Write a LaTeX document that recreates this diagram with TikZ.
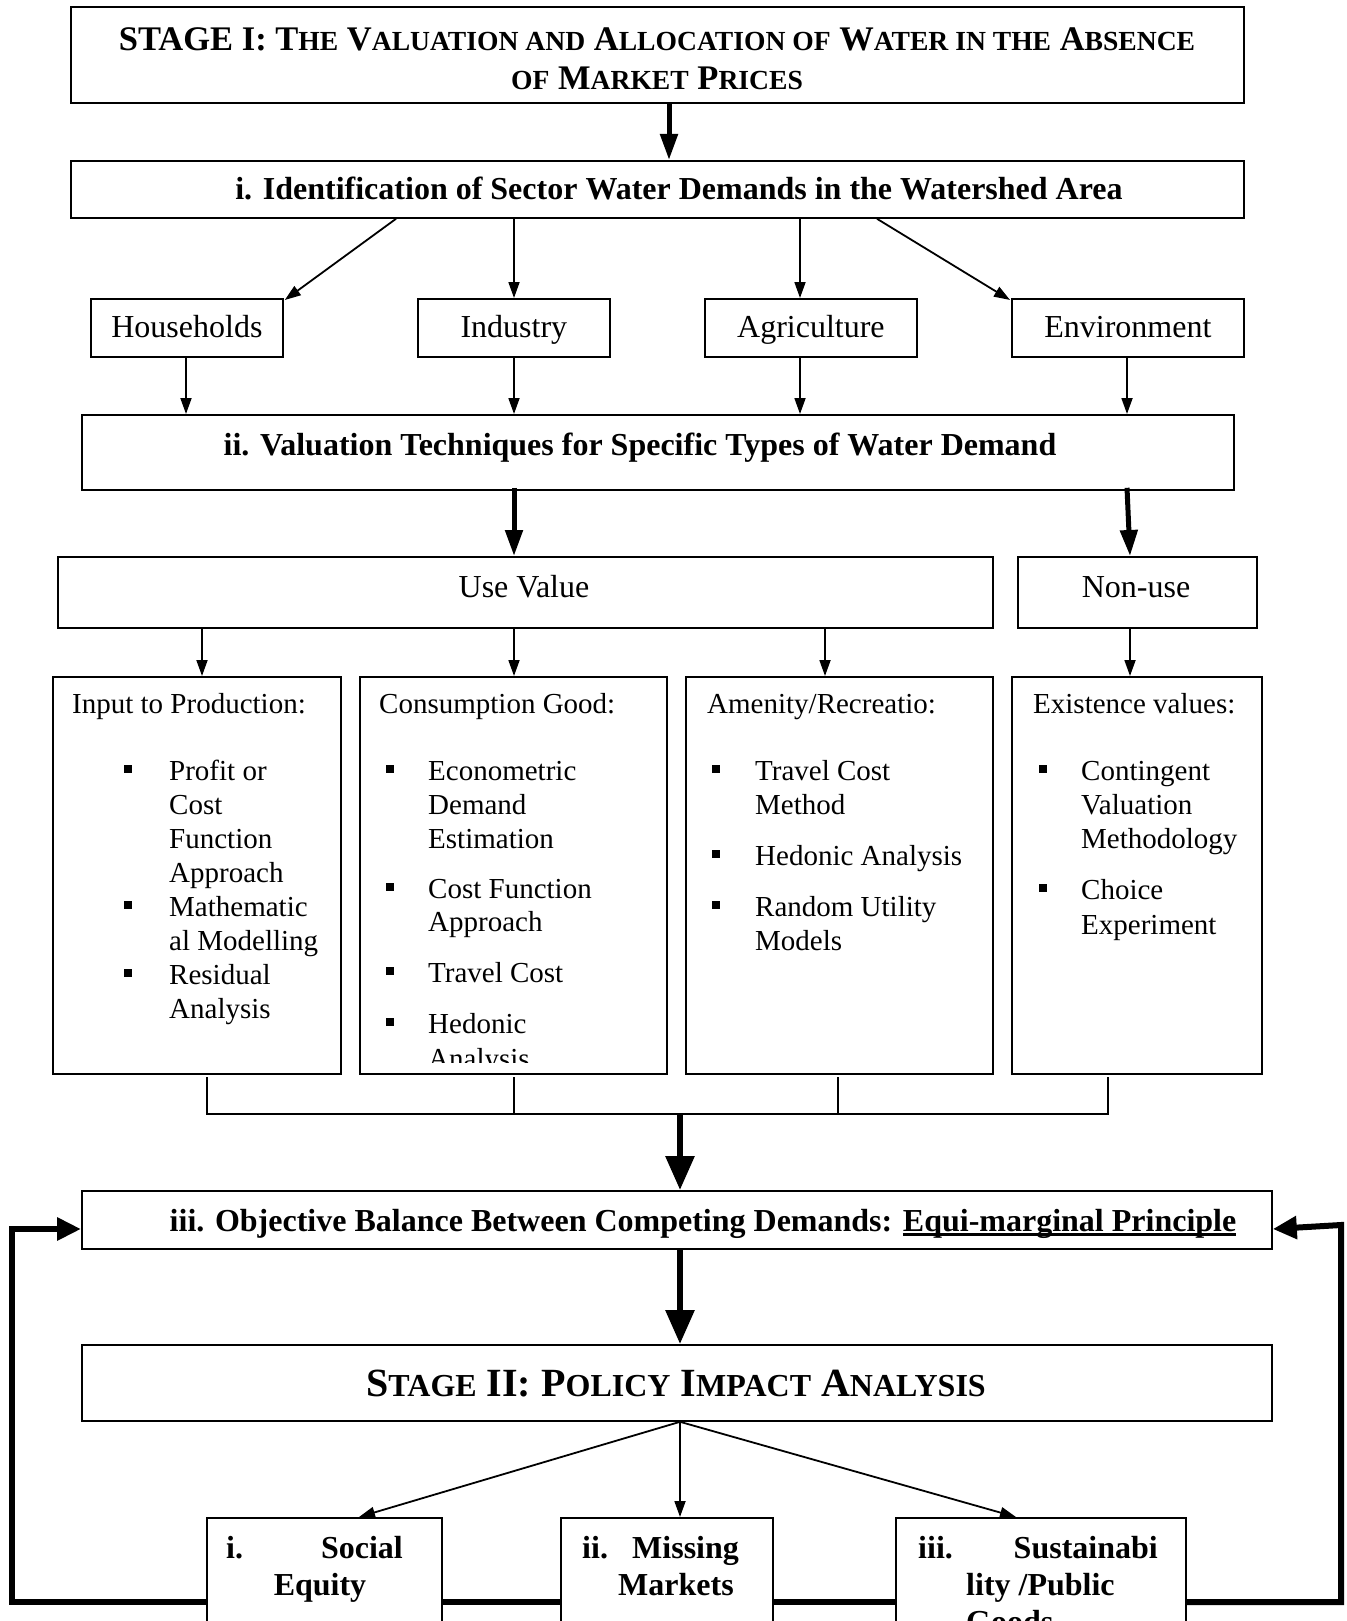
\documentclass[tikz,border=0pt]{standalone}
\usepackage{fontspec}
\setmainfont{Liberation Serif}
\usetikzlibrary{arrows.meta}
\newcommand\smc[1]{{\fontsize{27.6}{30}\selectfont #1}}
\newcommand\bsmc[1]{{\fontsize{32}{36}\selectfont #1}}
\newcommand\ulx[1]{\setbox0\hbox{#1}\rlap{\rule[-4.5pt]{\wd0}{2.2pt}}\box0}
\newcommand\li[4]{\node[rm,anchor=base west] (#1) at (#2,#3+9) {#4};}
\newcommand\bu[3]{\node[bul] (#1) at (#2,#3-2) {};}
\begin{document}
\begin{tikzpicture}[x=1pt,y=-1pt,
 box/.style={draw,line width=1.8pt,fill=white,anchor=north west,inner sep=0pt},
 sbox/.style={box,font=\fontsize{32}{36}\selectfont,text height=24pt,text depth=4pt},
 rm/.style={font=\fontsize{29}{34}\selectfont,inner sep=0pt},
 rmL/.style={font=\fontsize{32}{36}\selectfont,inner sep=0pt},
 bf/.style={font=\fontsize{32}{37}\selectfont\bfseries,inner sep=0pt},
 arr/.style={-{Triangle[length=16pt,width=11pt]},line width=1.8pt},
 tarrA/.style={-{Triangle[length=26pt,width=17pt]},line width=5pt},
 tarrB/.style={-{Triangle[length=34pt,width=28pt]},line width=6pt},
 fb/.style={line width=6pt},
 fbarr/.style={fb,-{Triangle[length=24pt,width=22pt]}},
 bul/.style={fill=black,minimum size=7.5pt,inner sep=0pt,draw=none}]

\useasboundingbox (0,0) rectangle (1346,1621);
\clip (0,0) rectangle (1346,1621);

% ---------- boxes ----------
\node[box,minimum width=1173pt,minimum height=96pt] (S1) at (70,6) {};
\node[box,minimum width=1173pt,minimum height=57pt] (Bi) at (70,160) {};
\node[sbox,minimum width=192pt,minimum height=58pt] (HH) at (90,298) {Households};
\node[sbox,minimum width=192pt,minimum height=58pt] (IND) at (417,298) {Industry};
\node[sbox,minimum width=212pt,minimum height=58pt] (AGR) at (704,298) {Agriculture};
\node[sbox,minimum width=232pt,minimum height=58pt] (ENV) at (1011,298) {Environment};
\node[box,minimum width=1152pt,minimum height=75pt] (Bii) at (81,414) {};
\node[box,minimum width=935pt,minimum height=71pt] (UV) at (57,556) {};
\node[box,minimum width=239pt,minimum height=71pt] (NU) at (1017,556) {};
\node[box,minimum width=288pt,minimum height=397pt] (IP) at (52,676) {};
\node[box,minimum width=307pt,minimum height=397pt] (CG) at (359,676) {};
\node[box,minimum width=307pt,minimum height=397pt] (AR) at (685,676) {};
\node[box,minimum width=250pt,minimum height=397pt] (EX) at (1011,676) {};
\node[box,minimum width=1190pt,minimum height=58pt] (Biii) at (81,1190) {};
\node[box,minimum width=1190pt,minimum height=76pt] (S2) at (81,1344) {};

% ---------- titles ----------
\node[inner sep=0pt,anchor=base,font=\fontsize{34.5}{38}\selectfont\bfseries] (t1) at (657,51)
 {STAGE I: T\smc{HE} V\smc{ALUATION AND} A\smc{LLOCATION OF} W\smc{ATER IN THE} A\smc{BSENCE}};
\node[inner sep=0pt,anchor=base,font=\fontsize{34.5}{38}\selectfont\bfseries] (t2) at (657,90)
 {\smc{OF} M\smc{ARKET} P\smc{RICES}};
\node[bf,anchor=base] (ti) at (679,200) {i. Identification of Sector Water Demands in the Watershed Area};
\node[bf,anchor=base] (tii) at (640,455) {ii. Valuation Techniques for Specific Types of Water Demand};
\node[rmL,anchor=base] (tuv) at (524,597) {Use Value};
\node[rmL,anchor=base] (tnu) at (1136,597) {Non-use};
\node[bf,anchor=base] (tiii) at (703,1231) {iii. Objective Balance Between Competing Demands: \ulx{Equi-marginal Principle}};
\node[inner sep=0pt,anchor=base,font=\fontsize{40}{44}\selectfont\bfseries] (ts2) at (676,1396)
 {S\bsmc{TAGE} II: P\bsmc{OLICY} I\bsmc{MPACT} A\bsmc{NALYSIS}};

% ---------- list boxes ----------
\li{ipT}{72}{704}{Input to Production:}
\bu{ipb1}{128}{771}\li{ip1}{169}{771}{Profit or}
\li{ip2}{169}{805}{Cost}
\li{ip3}{169}{839}{Function}
\li{ip4}{169}{873}{Approach}
\bu{ipb2}{128}{907}\li{ip5}{169}{907}{Mathematic}
\li{ip6}{169}{941}{al Modelling}
\bu{ipb3}{128}{975}\li{ip7}{169}{975}{Residual}
\li{ip8}{169}{1009}{Analysis}

\li{cgT}{379}{704}{Consumption Good:}
\bu{cgb1}{390}{771}\li{cg1}{428}{771}{Econometric}
\li{cg2}{428}{805}{Demand}
\li{cg3}{428}{839}{Estimation}
\bu{cgb2}{390}{889}\li{cg4}{428}{889}{Cost Function}
\li{cg5}{428}{922}{Approach}
\bu{cgb3}{390}{973}\li{cg6}{428}{973}{Travel Cost}
\bu{cgb4}{390}{1024}\li{cg7}{428}{1024}{Hedonic}
\begin{scope}
\clip (359,676) rectangle (666,1062);
\li{cg8}{428}{1059}{Analysis}
\end{scope}

\li{arT}{707}{704}{Amenity/Recreatio:}
\bu{arb1}{716}{771}\li{ar1}{755}{771}{Travel Cost}
\li{ar2}{755}{805}{Method}
\bu{arb2}{716}{856}\li{ar3}{755}{856}{Hedonic Analysis}
\bu{arb3}{716}{907}\li{ar4}{755}{907}{Random Utility}
\li{ar5}{755}{941}{Models}

\li{exT}{1033}{704}{Existence values:}
\bu{exb1}{1043}{771}\li{ex1}{1081}{771}{Contingent}
\li{ex2}{1081}{805}{Valuation}
\li{ex3}{1081}{839}{Methodology}
\bu{exb2}{1043}{890}\li{ex4}{1081}{890}{Choice}
\li{ex5}{1081}{925}{Experiment}

% ---------- coordinates ----------
\coordinate (c669) at (669,0);
\coordinate (c396) at (396,0);
\coordinate (c514) at (514,0);
\coordinate (c800) at (800,0);
\coordinate (c877) at (877,0);
\coordinate (c186) at (186,0);
\coordinate (c1127) at (1127,0);
\coordinate (c1130) at (1130,0);
\coordinate (c202) at (202,0);
\coordinate (c825) at (825,0);
\coordinate (c680) at (680,0);
\coordinate (c359) at (359,0);
\coordinate (c1016) at (1016,0);
\coordinate (m1) at (207,1114);
\coordinate (m2) at (514,1114);
\coordinate (m3) at (838,1114);
\coordinate (m4) at (1108,1114);
\coordinate (mc) at (680,1114);
\coordinate (yb) at (0,1077);

% ---------- connectors ----------
\draw[tarrA] (S1.south -| c669) -- (Bi.north -| c669);
\draw[arr] (Bi.south -| c396) -- ([shift={(1,2)}]HH.north east);
\draw[arr] (Bi.south -| c514) -- (IND.north -| c514);
\draw[arr] (Bi.south -| c800) -- (AGR.north -| c800);
\draw[arr] (Bi.south -| c877) -- ([shift={(-1,2)}]ENV.north west);
\draw[arr] (HH.south -| c186) -- (Bii.north -| c186);
\draw[arr] (IND.south -| c514) -- (Bii.north -| c514);
\draw[arr] (AGR.south -| c800) -- (Bii.north -| c800);
\draw[arr] (ENV.south -| c1127) -- (Bii.north -| c1127);
\draw[tarrA] ([yshift=3pt]Bii.south -| c514) -- (UV.north -| c514);
\draw[tarrA] ([yshift=3pt]Bii.south -| c1127) -- (NU.north -| c1130);
\draw[arr] (UV.south -| c202) -- (IP.north -| c202);
\draw[arr] (UV.south -| c514) -- (CG.north -| c514);
\draw[arr] (UV.south -| c825) -- (AR.north -| c825);
\draw[arr] (NU.south -| c1130) -- (EX.north -| c1130);
\draw[line width=1.8pt] (m1 |- yb) -- (m1) -- (m4) -- (m4 |- yb);
\draw[line width=1.8pt] (m2 |- yb) -- (m2);
\draw[line width=1.8pt] (m3 |- yb) -- (m3);
\draw[tarrB] (mc) -- (Biii.north -| mc);
\draw[tarrB] (Biii.south -| c680) -- (S2.north -| c680);

% ---------- stage II outcomes ----------
\node[box,minimum width=235pt,minimum height=200pt] (SE) at (206,1517) {};
\node[box,minimum width=212pt,minimum height=200pt] (MM) at (560,1517) {};
\node[box,minimum width=290pt,minimum height=200pt] (SP) at (895,1517) {};
\node[bf,anchor=base west] (se1) at (226,1558) {i.};
\node[bf,anchor=base east] (se2) at (403,1558) {Social};
\node[bf,anchor=base] (se3) at (320,1595) {Equity};
\node[bf,anchor=base west] (mm1) at (582,1558) {ii.};
\node[bf,anchor=base west] (mm2) at (632,1558) {Missing};
\node[bf,anchor=base west] (mm3) at (618,1595) {Markets};
\node[bf,anchor=base west] (sp1) at (918,1558) {iii.};
\node[bf,anchor=base east] (sp2) at (1158,1558) {Sustainabi};
\node[bf,anchor=base west] (sp3) at (966,1595) {lity /Public};
\node[bf,anchor=base west] (sp4) at (966,1632) {Goods};

\draw[arr] (S2.south -| c680) -- (SE.north -| c359);
\draw[arr] (S2.south -| c680) -- (MM.north -| c680);
\draw[arr] (S2.south -| c680) -- (SP.north -| c1016);

% ---------- feedback loop ----------
\coordinate (L1) at (12,1602);
\coordinate (L2) at (12,1229);
\coordinate (R1) at (1341,1602);
\coordinate (R2) at (1341,1225);
\coordinate (R3) at (0,1229);
\draw[fbarr] (SE.west |- L1) -- (L1) -- (L2) -- (Biii.west |- L2);
\draw[fbarr] (SP.east |- R1) -- (R1) -- (R2) -- (Biii.east |- R3);
\draw[fb] (SE.east |- L1) -- (MM.west |- L1);
\draw[fb] (MM.east |- L1) -- (SP.west |- L1);
\end{tikzpicture}
\end{document}
